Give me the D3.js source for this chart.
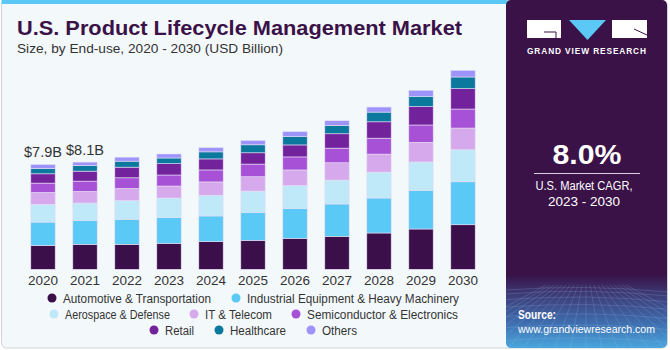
<!DOCTYPE html>
<html>
<head>
<meta charset="utf-8">
<script src="https://cdn.jsdelivr.net/npm/d3@7"></script>
<style>
  html, body { margin: 0; padding: 0; background: #ffffff; }
  svg { display: block; font-family: "Liberation Sans", Arial, sans-serif; }
</style>
</head>
<body>
<div id="chart"></div>
<script>
// years on the x axis
const years = ["2020", "2021", "2022", "2023", "2024", "2025", "2026", "2027", "2028", "2029", "2030"];

// end-use segments, bottom to top
const segments = [
  "Automotive & Transportation",
  "Industrial Equipment & Heavy Machinery",
  "Aerospace & Defense",
  "IT & Telecom",
  "Semiconductor & Electronics",
  "Retail",
  "Healthcare",
  "Others"
];
const colors = ["#3a0f4a", "#5bc9f6", "#bfe9f9", "#d5a9ec", "#a651d6", "#72229b", "#0b789e", "#9c94fa"];

// USD billion
const automotive = [1.80, 1.88, 1.88, 1.95, 2.08, 2.18, 2.33, 2.48, 2.73, 3.03, 3.35];
const industrial = [1.75, 1.80, 1.88, 1.93, 1.93, 2.10, 2.23, 2.43, 2.63, 2.91, 3.23];
const aerospace  = [1.33, 1.30, 1.40, 1.48, 1.56, 1.60, 1.73, 1.80, 1.95, 2.13, 2.41];
const itTelecom  = [0.90, 0.88, 0.92, 0.90, 1.00, 1.08, 1.18, 1.30, 1.35, 1.48, 1.63];
const semicond   = [0.70, 0.77, 0.80, 0.83, 0.90, 0.95, 0.98, 1.10, 1.20, 1.30, 1.43];
const retail     = [0.70, 0.75, 0.80, 0.85, 0.83, 0.85, 0.90, 1.08, 1.23, 1.38, 1.53];
const healthcare = [0.40, 0.43, 0.45, 0.43, 0.53, 0.60, 0.62, 0.63, 0.73, 0.78, 0.88];
const others     = [0.30, 0.25, 0.30, 0.30, 0.32, 0.33, 0.38, 0.35, 0.38, 0.45, 0.50];

// value labels shown above the first two bars
const barLabels = ["$7.9B", "$8.1B"];

const series = [automotive, industrial, aerospace, itTelecom, semicond, retail, healthcare, others];

const W = 670, H = 350;

const svg = d3.select("#chart")
  .append("svg")
    .attr("width", W)
    .attr("height", H);

// card background
svg.append("rect")
  .attr("x", 1.5).attr("y", 0.5)
  .attr("width", 666).attr("height", 347.5)
  .attr("rx", 5)
  .attr("fill", "#f3f8fb")
  .attr("stroke", "#cfd3d6");

// light blue bar on top
svg.append("rect")
  .attr("x", 1.5).attr("y", 0)
  .attr("width", 506).attr("height", 4)
  .attr("fill", "#5bc8f5");

// title
svg.append("text")
  .attr("x", 17).attr("y", 35)
  .attr("font-size", 20)
  .attr("font-weight", "bold")
  .attr("fill", "#3a1248")
  .attr("textLength", 445)
  .attr("lengthAdjust", "spacingAndGlyphs")
  .text("U.S. Product Lifecycle Management Market");

svg.append("text")
  .attr("x", 17).attr("y", 53)
  .attr("font-size", 13.5)
  .attr("fill", "#333")
  .attr("textLength", 266)
  .attr("lengthAdjust", "spacingAndGlyphs")
  .text("Size, by End-use, 2020 - 2030 (USD Billion)");

// build stacked data
const table = years.map((y, i) => {
  const row = {year: y};
  segments.forEach((s, j) => { row[s] = series[j][i]; });
  return row;
});
const stacked = d3.stack().keys(segments)(table);

const x = d3.scaleBand()
  .domain(years)
  .range([22, 484])
  .paddingInner(0.42)
  .paddingOuter(0.21);

const y = d3.scaleLinear()
  .domain([0, 15.2])
  .range([269.3, 269.3 - 15.2 * 13.3]);

const color = d3.scaleOrdinal().domain(segments).range(colors);

svg.append("g")
  .selectAll("g")
  .data(stacked)
  .join("g")
    .attr("fill", d => color(d.key))
  .selectAll("rect")
  .data(d => d)
  .join("rect")
    .attr("x", d => x(d.data.year))
    .attr("y", d => y(d[1]))
    .attr("width", x.bandwidth())
    .attr("height", d => y(d[0]) - y(d[1]))
    .attr("stroke", "#e6def4")
    .attr("stroke-width", 0.6);

// x axis labels
const xAxis = svg.append("g")
  .attr("transform", "translate(0,269.3)")
  .call(d3.axisBottom(x).tickSize(0).tickPadding(6));
xAxis.select(".domain").remove();
xAxis.selectAll("text")
  .attr("font-size", 13.5)
  .attr("font-family", "Liberation Sans, Arial, sans-serif")
  .attr("fill", "#333");

// totals above first bars
const totals = table.map(r => d3.sum(segments, s => r[s]));
svg.append("g")
  .selectAll("text")
  .data(barLabels)
  .join("text")
    .attr("x", (d, i) => x(years[i]) + x.bandwidth() / 2)
    .attr("y", (d, i) => y(totals[i]) - 7)
    .attr("text-anchor", "middle")
    .attr("font-size", 14.5)
    .attr("fill", "#333")
    .text(d => d);

// legend: [segment index, circle x, text width]
const legendRows = [
  [[0, 52, 148], [1, 236, 212]],
  [[2, 54, 105], [3, 194, 67], [4, 296, 151]],
  [[5, 154, 29], [6, 219, 56], [7, 311, 35]]
];
const legendY = [298, 314, 330];
legendRows.forEach((row, r) => {
  row.forEach(([k, cx, tw]) => {
    svg.append("circle")
      .attr("cx", cx).attr("cy", legendY[r])
      .attr("r", 4.5)
      .attr("fill", colors[k]);
    svg.append("text")
      .attr("x", cx + 11).attr("y", legendY[r] + 4.5)
      .attr("font-size", 12.5)
      .attr("fill", "#333")
      .attr("textLength", tw)
      .attr("lengthAdjust", "spacingAndGlyphs")
      .text(segments[k]);
  });
});

// right panel
const defs = svg.append("defs");
const grad = defs.append("linearGradient")
  .attr("id", "panelGrad")
  .attr("x1", 0).attr("y1", 0).attr("x2", 0).attr("y2", 1);
grad.append("stop").attr("offset", "0%").attr("stop-color", "#3a1248");
grad.append("stop").attr("offset", "79%").attr("stop-color", "#3a1248");
grad.append("stop").attr("offset", "84%").attr("stop-color", "#3d3772");
grad.append("stop").attr("offset", "93%").attr("stop-color", "#3f6fb0");
grad.append("stop").attr("offset", "100%").attr("stop-color", "#4aa6dd");

defs.append("clipPath").attr("id", "panelClip")
  .append("rect")
    .attr("x", 506).attr("y", 0)
    .attr("width", 161).attr("height", 348)
    .attr("rx", 5);

const panel = svg.append("g").attr("clip-path", "url(#panelClip)");
panel.append("rect")
  .attr("x", 506).attr("y", 0)
  .attr("width", 161).attr("height", 348)
  .attr("fill", "url(#panelGrad)");

// faint mesh at panel bottom
const mesh = panel.append("g")
  .attr("stroke", "#9fc6ee")
  .attr("stroke-opacity", 0.28)
  .attr("stroke-width", 0.7)
  .attr("fill", "none");
d3.range(0, 9).forEach(i => {
  const yy = 290 + i * i * 0.9 + i * 3;
  mesh.append("path").attr("d", `M506,${yy} Q586,${yy - 6} 667,${yy + 2}`);
});
d3.range(-10, 11).forEach(i => {
  mesh.append("line")
    .attr("x1", 586 + i * 4).attr("y1", 285)
    .attr("x2", 586 + i * 16).attr("y2", 350);
});

// logo
const logo = svg.append("g");
logo.append("rect").attr("x", 527).attr("y", 20).attr("width", 34).attr("height", 18).attr("fill", "#fff");
logo.append("path").attr("d", "M544,32 H556 V38").attr("stroke", "#3a1248").attr("stroke-width", 1).attr("fill", "none");
logo.append("path").attr("d", "M569,20 L606,20 L587.5,40 Z").attr("fill", "#5bc8f5");
logo.append("rect").attr("x", 612).attr("y", 20).attr("width", 35).attr("height", 18).attr("fill", "#fff");
logo.append("path").attr("d", "M634,29 L647,35").attr("stroke", "#3a1248").attr("stroke-width", 1);
logo.append("text")
  .attr("x", 587).attr("y", 54)
  .attr("text-anchor", "middle")
  .attr("font-size", 8.3)
  .attr("font-weight", "bold")
  .attr("letter-spacing", 1)
  .attr("fill", "#fff")
  .attr("textLength", 120)
  .text("GRAND VIEW RESEARCH");

// CAGR
svg.append("text")
  .attr("x", 587).attr("y", 164)
  .attr("text-anchor", "middle")
  .attr("font-size", 27)
  .attr("font-weight", "bold")
  .attr("fill", "#fff")
  .attr("textLength", 69)
  .attr("lengthAdjust", "spacingAndGlyphs")
  .text("8.0%");
svg.append("line")
  .attr("x1", 534).attr("x2", 640)
  .attr("y1", 173.5).attr("y2", 173.5)
  .attr("stroke", "#d8d0e0")
  .attr("stroke-width", 1);
svg.append("text")
  .attr("x", 584).attr("y", 190)
  .attr("text-anchor", "middle")
  .attr("font-size", 12.5)
  .attr("fill", "#fff")
  .attr("textLength", 97)
  .attr("lengthAdjust", "spacingAndGlyphs")
  .text("U.S. Market CAGR,");
svg.append("text")
  .attr("x", 584).attr("y", 206)
  .attr("text-anchor", "middle")
  .attr("font-size", 12.5)
  .attr("fill", "#fff")
  .attr("textLength", 72)
  .attr("lengthAdjust", "spacingAndGlyphs")
  .text("2023 - 2030");

// source
svg.append("text")
  .attr("x", 518).attr("y", 319)
  .attr("font-size", 12)
  .attr("font-weight", "bold")
  .attr("fill", "#fff")
  .attr("textLength", 38)
  .attr("lengthAdjust", "spacingAndGlyphs")
  .text("Source:");
svg.append("text")
  .attr("x", 518).attr("y", 333)
  .attr("font-size", 11.5)
  .attr("fill", "#fff")
  .attr("textLength", 137)
  .attr("lengthAdjust", "spacingAndGlyphs")
  .text("www.grandviewresearch.com");
</script>
</body>
</html>
